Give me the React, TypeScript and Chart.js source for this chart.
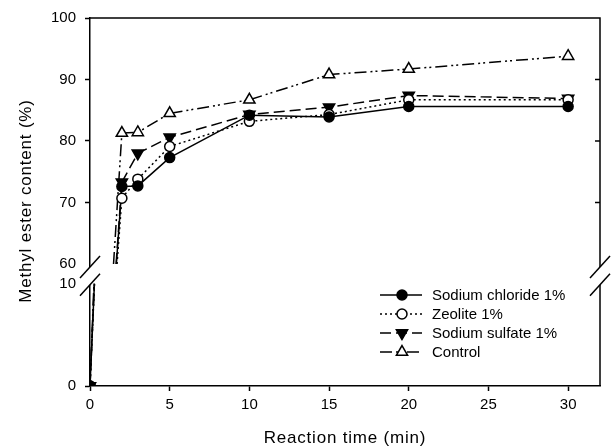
import React, { useEffect, useRef } from "react";
import { Chart, registerables } from "chart.js";

Chart.register(...registerables);

// ---- data ----
const TIME = [0, 2, 3, 5, 10, 15, 20, 30];
const SODIUM_CHLORIDE = [0, 72.6, 72.7, 77.3, 84.2, 83.9, 85.6, 85.6];
const ZEOLITE = [0, 70.7, 73.8, 79.1, 83.2, 84.3, 86.7, 86.7];
const SODIUM_SULFATE = [0, 73.3, 78.0, 80.6, 84.3, 85.5, 87.4, 86.9];
const CONTROL = [0, 81.3, 81.4, 84.5, 86.7, 90.8, 91.7, 93.8];
const SERIES_NAMES = ["Sodium chloride 1%", "Zeolite 1%", "Sodium sulfate 1%", "Control"];
const X_TICKS = [0, 5, 10, 15, 20, 25, 30];
const Y_TICKS = [0, 10, 60, 70, 80, 90, 100];
const X_TITLE = "Reaction time (min)";
const Y_TITLE = "Methyl ester content (%)";

// ---- broken axis mapping: 0–10 (lower), 60–100 (upper) ----
const LOW_UNIT = 10.3;
const GAP_TOP = 123;
const HIGH_UNIT = 6.2;
const toDisp = (v: number) => (v <= 10 ? v * LOW_UNIT : GAP_TOP + (v - 60) * HIGH_UNIT);
const Y_MAX = toDisp(100);

const FONT = '"Liberation Sans", Arial, sans-serif';

type Style = {
  values: number[];
  dash: number[];
  point: "circle" | "triangle";
  fill: string;
  rot: number;
  radius: number;
};

const STYLES: Style[] = [
  { values: SODIUM_CHLORIDE, dash: [], point: "circle", fill: "#000", rot: 0, radius: 5 },
  { values: ZEOLITE, dash: [2, 3], point: "circle", fill: "#fff", rot: 0, radius: 5 },
  { values: SODIUM_SULFATE, dash: [11, 5], point: "triangle", fill: "#000", rot: 180, radius: 6.5 },
  { values: CONTROL, dash: [12, 4, 2, 3, 2, 4], point: "triangle", fill: "#fff", rot: 0, radius: 6.5 },
];

function drawMarker(ctx: CanvasRenderingContext2D, s: Style, x: number, y: number) {
  ctx.save();
  ctx.setLineDash([]);
  ctx.lineWidth = 1.5;
  ctx.strokeStyle = "#000";
  ctx.fillStyle = s.fill;
  ctx.beginPath();
  if (s.point === "circle") {
    ctx.arc(x, y, s.radius, 0, Math.PI * 2);
  } else {
    let rad = (s.rot * Math.PI) / 180;
    const r = s.radius;
    ctx.moveTo(x + Math.sin(rad) * r, y - Math.cos(rad) * r);
    rad += (2 * Math.PI) / 3;
    ctx.lineTo(x + Math.sin(rad) * r, y - Math.cos(rad) * r);
    rad += (2 * Math.PI) / 3;
    ctx.lineTo(x + Math.sin(rad) * r, y - Math.cos(rad) * r);
    ctx.closePath();
  }
  ctx.fill();
  ctx.stroke();
  ctx.restore();
}

const customPlugin = {
  id: "brokenAxis",
  beforeDatasetsDraw(chart: any) {
    const xs = chart.scales.x;
    const ys = chart.scales.y;
    const ctx: CanvasRenderingContext2D = chart.ctx;
    STYLES.forEach((s) => {
      const t0 = TIME[0], t1 = TIME[1];
      const v0 = s.values[0], v1 = s.values[1];
      const tAt = (v: number) => t0 + ((v - v0) / (v1 - v0)) * (t1 - t0);
      ctx.save();
      ctx.strokeStyle = "#000";
      ctx.lineWidth = 1.5;
      ctx.setLineDash(s.dash);
      ctx.beginPath();
      ctx.moveTo(xs.getPixelForValue(t0), ys.getPixelForValue(toDisp(v0)));
      ctx.lineTo(xs.getPixelForValue(tAt(10)), ys.getPixelForValue(toDisp(10)));
      ctx.moveTo(xs.getPixelForValue(tAt(60)), ys.getPixelForValue(toDisp(60)));
      ctx.lineTo(xs.getPixelForValue(t1), ys.getPixelForValue(toDisp(v1)));
      ctx.stroke();
      ctx.restore();
    });
  },
  afterDraw(chart: any) {
    const ctx: CanvasRenderingContext2D = chart.ctx;
    const { left, right, top, bottom } = chart.chartArea;
    const ys = chart.scales.y;
    const y60 = ys.getPixelForValue(toDisp(60));
    const y10 = ys.getPixelForValue(toDisp(10));
    ctx.save();
    // top & right frame
    ctx.strokeStyle = "#000";
    ctx.lineWidth = 1.5;
    ctx.beginPath();
    ctx.moveTo(left, top);
    ctx.lineTo(right, top);
    ctx.lineTo(right, bottom);
    ctx.stroke();
    // inward ticks on right axis
    [70, 80, 90].forEach((v) => {
      const y = ys.getPixelForValue(toDisp(v));
      ctx.beginPath();
      ctx.moveTo(right, y);
      ctx.lineTo(right - 5, y);
      ctx.stroke();
    });
    // break gap on both vertical axes
    const ga = y60 + 3;
    const gb = y10 + 1;
    ctx.strokeStyle = "#fff";
    ctx.lineWidth = 4;
    [left, right].forEach((ax) => {
      ctx.beginPath();
      ctx.moveTo(ax, ga);
      ctx.lineTo(ax, gb);
      ctx.stroke();
    });
    ctx.strokeStyle = "#000";
    ctx.lineWidth = 1.5;
    [left, right].forEach((ax) => {
      [ga, gb].forEach((yc) => {
        ctx.beginPath();
        ctx.moveTo(ax - 10, yc + 11);
        ctx.lineTo(ax + 10, yc - 11);
        ctx.stroke();
      });
    });
    // titles
    ctx.fillStyle = "#000";
    ctx.font = `17px ${FONT}`;
    (ctx as any).letterSpacing = "0.8px";
    ctx.textAlign = "center";
    ctx.textBaseline = "middle";
    ctx.fillText(X_TITLE, 345, 438);
    ctx.save();
    ctx.translate(26, 201);
    ctx.rotate(-Math.PI / 2);
    ctx.fillText(Y_TITLE, 0, 0);
    ctx.restore();
    (ctx as any).letterSpacing = "0px";
    // legend
    const rows = [295, 314, 333, 352];
    ctx.font = `15px ${FONT}`;
    ctx.textAlign = "left";
    STYLES.forEach((s, i) => {
      const y = rows[i];
      ctx.save();
      ctx.strokeStyle = "#000";
      ctx.lineWidth = 1.5;
      ctx.setLineDash(s.dash);
      ctx.beginPath();
      ctx.moveTo(380, y);
      ctx.lineTo(422, y);
      ctx.stroke();
      ctx.restore();
      drawMarker(ctx, s, 402, y);
      ctx.fillStyle = "#000";
      ctx.fillText(SERIES_NAMES[i], 432, y + 1);
    });
    ctx.restore();
  },
};

export default function App() {
  const ref = useRef<HTMLCanvasElement | null>(null);
  useEffect(() => {
    document.body.style.margin = "0";
    if (!ref.current) return;
    const datasets = STYLES.map((s, i) => ({
      label: SERIES_NAMES[i],
      data: TIME.map((t, j) => ({ x: t, y: toDisp(s.values[j]) })),
      borderColor: "#000",
      borderWidth: 1.5,
      borderDash: s.dash,
      backgroundColor: s.fill,
      pointBackgroundColor: s.fill,
      pointBorderColor: "#000",
      pointBorderWidth: 1.5,
      pointRadius: s.radius,
      pointStyle: s.point,
      pointRotation: s.rot,
      tension: 0,
      fill: false,
      segment: {
        borderColor: (c: any) => (c.p0DataIndex === 0 ? "rgba(0,0,0,0)" : undefined),
      },
    }));
    const chart = new Chart(ref.current, {
      type: "line",
      data: { datasets },
      options: {
        animation: false,
        responsive: false,
        devicePixelRatio: 1,
        layout: { padding: { top: 15, right: 11, left: 0, bottom: 0 } },
        plugins: { legend: { display: false }, tooltip: { enabled: false } },
        scales: {
          x: {
            type: "linear",
            min: 0,
            max: 32,
            afterFit: (sc: any) => { sc.height = 62; },
            afterBuildTicks: (sc: any) => { sc.ticks = X_TICKS.map((v) => ({ value: v })); },
            ticks: {
              color: "#000",
              font: { size: 15, family: FONT },
              padding: 5,
              maxRotation: 0,
              callback: (v: any) => String(v),
            },
            grid: { drawOnChartArea: false, drawTicks: true, tickLength: 5, color: "#000", tickWidth: 1.5 },
            border: { display: true, color: "#000", width: 1.5 },
          },
          y: {
            type: "linear",
            min: 0,
            max: Y_MAX,
            afterFit: (sc: any) => { sc.width = 90; },
            afterBuildTicks: (sc: any) => { sc.ticks = Y_TICKS.map((v) => ({ value: toDisp(v) })); },
            ticks: {
              color: "#000",
              font: { size: 15, family: FONT },
              padding: 9,
              callback: (_v: any, i: number) => String(Y_TICKS[i]),
            },
            grid: {
              drawOnChartArea: false,
              drawTicks: true,
              tickLength: 5,
              tickWidth: 1.5,
              color: "#000",
              tickColor: (c: any) => (Y_TICKS[c.index] === 10 || Y_TICKS[c.index] === 60 ? "rgba(0,0,0,0)" : "#000"),
            },
            border: { display: true, color: "#000", width: 1.5 },
          },
        },
      },
      plugins: [customPlugin],
    } as any);
    return () => chart.destroy();
  }, []);
  return (
    <div style={{ width: 611, height: 448 }}>
      <canvas ref={ref} width={611} height={448} />
    </div>
  );
}
